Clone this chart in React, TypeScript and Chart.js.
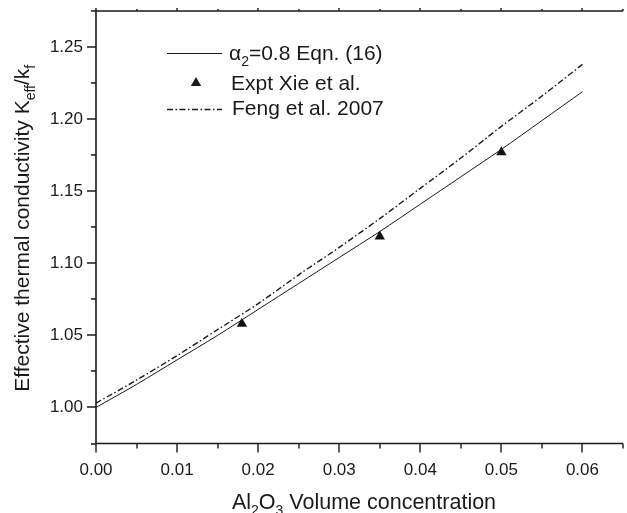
import React, { useEffect, useRef } from 'react';
import { Chart, registerables } from 'chart.js';

Chart.register(...registerables);

// ---- data ----
const CONC = [0, 0.005, 0.01, 0.015, 0.02, 0.025, 0.03, 0.035, 0.04, 0.045, 0.05, 0.055, 0.06];
const MODEL_ALPHA08 = [1.0, 1.016, 1.033, 1.05, 1.068, 1.086, 1.104, 1.122, 1.141, 1.16, 1.179, 1.199, 1.219];
const FENG_2007 = [1.003, 1.019, 1.036, 1.054, 1.072, 1.092, 1.111, 1.131, 1.152, 1.173, 1.195, 1.216, 1.238];
const EXPT_X = [0.018, 0.035, 0.05];
const EXPT_Y = [1.058, 1.1185, 1.177];

const X_TICKS = [0, 0.01, 0.02, 0.03, 0.04, 0.05, 0.06];
const X_MINOR = [0.005, 0.015, 0.025, 0.035, 0.045, 0.055, 0.065];
const Y_TICKS = [1.0, 1.05, 1.1, 1.15, 1.2, 1.25];
const Y_MINOR = [0.975, 1.025, 1.075, 1.125, 1.175, 1.225, 1.275];
const X_MIN = 0;
const X_MAX = 0.065;
const Y_MIN = 0.975;
const Y_MAX = 1.275;

const FONT = "'Liberation Sans', Arial, Helvetica, sans-serif";
const INK = '#1a1a1a';

type Part = { t: string; sub?: boolean };

function richWidth(ctx: CanvasRenderingContext2D, parts: Part[], size: number) {
  let w = 0;
  for (const p of parts) {
    ctx.font = `${p.sub ? Math.round(size * 0.65) : size}px ${FONT}`;
    w += ctx.measureText(p.t).width;
  }
  return w;
}

function drawRich(ctx: CanvasRenderingContext2D, parts: Part[], x: number, y: number, size: number, align: 'left' | 'center') {
  let cx = align === 'center' ? x - richWidth(ctx, parts, size) / 2 : x;
  ctx.textAlign = 'left';
  ctx.textBaseline = 'alphabetic';
  for (const p of parts) {
    ctx.font = `${p.sub ? Math.round(size * 0.65) : size}px ${FONT}`;
    ctx.fillText(p.t, cx, p.sub ? y + size * 0.3 : y);
    cx += ctx.measureText(p.t).width;
  }
}

function triangle(ctx: CanvasRenderingContext2D, x: number, y: number, r: number) {
  ctx.beginPath();
  for (let k = 0; k < 3; k++) {
    const a = (k * 2 * Math.PI) / 3;
    const px = x + Math.sin(a) * r;
    const py = y - Math.cos(a) * r;
    if (k === 0) ctx.moveTo(px, py);
    else ctx.lineTo(px, py);
  }
  ctx.closePath();
  ctx.fill();
}

const decor = {
  id: 'decor',
  afterDraw(chart: any) {
    const { ctx, chartArea } = chart;
    const { left, right, top, bottom } = chartArea;
    const xs = chart.scales.x;
    const ys = chart.scales.y;
    ctx.save();
    ctx.strokeStyle = INK;
    ctx.fillStyle = INK;

    // frame
    ctx.lineWidth = 1.6;
    ctx.beginPath();
    ctx.moveTo(left, top);
    ctx.lineTo(left, bottom);
    ctx.moveTo(left - 0.8, bottom);
    ctx.lineTo(right, bottom);
    ctx.moveTo(left - 0.8, top);
    ctx.lineTo(right, top);
    ctx.stroke();

    // ticks
    ctx.lineWidth = 1.4;
    ctx.beginPath();
    for (const v of X_TICKS) {
      const px = Math.round(xs.getPixelForValue(v));
      ctx.moveTo(px, bottom);
      ctx.lineTo(px, bottom + 9);
      ctx.moveTo(px, top);
      ctx.lineTo(px, top - 3);
    }
    for (const v of X_MINOR) {
      const px = Math.round(xs.getPixelForValue(v));
      ctx.moveTo(px, bottom);
      ctx.lineTo(px, bottom + 5);
      ctx.moveTo(px, top);
      ctx.lineTo(px, top - 2);
    }
    for (const v of Y_TICKS) {
      const py = Math.round(ys.getPixelForValue(v));
      ctx.moveTo(left, py);
      ctx.lineTo(left - 9, py);
    }
    for (const v of Y_MINOR) {
      const py = Math.round(ys.getPixelForValue(v));
      ctx.moveTo(left, py);
      ctx.lineTo(left - 5, py);
    }
    ctx.stroke();

    // axis titles
    drawRich(
      ctx,
      [{ t: 'Al' }, { t: '2', sub: true }, { t: 'O' }, { t: '3', sub: true }, { t: ' Volume concentration' }],
      364,
      509,
      21.5,
      'center'
    );
    ctx.save();
    ctx.translate(28.5, (top + bottom) / 2 + 1);
    ctx.rotate(-Math.PI / 2);
    drawRich(
      ctx,
      [{ t: 'Effective thermal conductivity K' }, { t: 'eff', sub: true }, { t: '/k' }, { t: 'f', sub: true }],
      0,
      0,
      21,
      'center'
    );
    ctx.restore();

    // legend
    ctx.lineWidth = 1;
    ctx.beginPath();
    ctx.moveTo(167, 53.5);
    ctx.lineTo(222, 53.5);
    ctx.stroke();
    drawRich(ctx, [{ t: 'α' }, { t: '2', sub: true }, { t: '=0.8 Eqn. (16)' }], 229, 60, 21, 'left');

    triangle(ctx, 196, 83, 6);
    drawRich(ctx, [{ t: 'Expt Xie et al.' }], 231, 89.5, 21, 'left');

    ctx.lineWidth = 1.4;
    ctx.setLineDash([6, 2.5, 1.5, 2.5]);
    ctx.beginPath();
    ctx.moveTo(167, 109.5);
    ctx.lineTo(222, 109.5);
    ctx.stroke();
    ctx.setLineDash([]);
    drawRich(ctx, [{ t: 'Feng et al. 2007' }], 232, 114.5, 21, 'left');

    ctx.restore();
  },
};

export default function App() {
  const ref = useRef<HTMLCanvasElement | null>(null);

  useEffect(() => {
    if (!ref.current) return;
    Chart.defaults.font.family = FONT;
    const chart = new Chart(ref.current, {
      type: 'line',
      data: {
        datasets: [
          {
            label: 'alpha2=0.8 Eqn. (16)',
            data: CONC.map((x, i) => ({ x, y: MODEL_ALPHA08[i] })),
            borderColor: INK,
            borderWidth: 1,
            pointRadius: 0,
            tension: 0.3,
            fill: false,
          },
          {
            label: 'Expt Xie et al.',
            data: EXPT_X.map((x, i) => ({ x, y: EXPT_Y[i] })),
            showLine: false,
            pointStyle: 'triangle',
            pointRadius: 6,
            pointBackgroundColor: '#111',
            pointBorderColor: '#111',
            pointBorderWidth: 0,
          },
          {
            label: 'Feng et al. 2007',
            data: CONC.map((x, i) => ({ x, y: FENG_2007[i] })),
            borderColor: INK,
            borderWidth: 1.4,
            borderDash: [6, 2.5, 1.5, 2.5],
            pointRadius: 0,
            tension: 0.3,
            fill: false,
          },
        ],
      },
      options: {
        animation: false,
        responsive: false,
        devicePixelRatio: 1,
        layout: { padding: { top: 11, left: 0, right: 0, bottom: 0 } },
        plugins: { legend: { display: false }, tooltip: { enabled: false } },
        scales: {
          x: {
            type: 'linear',
            min: X_MIN,
            max: X_MAX,
            grid: { display: false, drawTicks: false },
            border: { display: false },
            afterBuildTicks: (s: any) => {
              s.ticks = X_TICKS.map((v) => ({ value: v }));
            },
            afterFit: (s: any) => {
              s.height = 69.5;
              s.paddingLeft = 0;
              s.paddingRight = 0;
            },
            ticks: {
              padding: 17,
              autoSkip: false,
              maxRotation: 0,
              color: INK,
              font: { size: 17, family: FONT },
              callback: (v: any) => Number(v).toFixed(2),
            },
          },
          y: {
            type: 'linear',
            min: Y_MIN,
            max: Y_MAX,
            grid: { display: false, drawTicks: false },
            border: { display: false },
            afterBuildTicks: (s: any) => {
              s.ticks = Y_TICKS.map((v) => ({ value: v }));
            },
            afterFit: (s: any) => {
              s.width = 96;
              s.paddingTop = 0;
              s.paddingBottom = 0;
            },
            ticks: {
              padding: 13,
              autoSkip: false,
              color: INK,
              font: { size: 17, family: FONT },
              callback: (v: any) => Number(v).toFixed(2),
            },
          },
        },
      },
      plugins: [decor],
    });
    return () => chart.destroy();
  }, []);

  return (
    <div style={{ position: 'fixed', left: 0, top: 0, width: 627, height: 513, overflow: 'hidden', background: '#fff' }}>
      <canvas ref={ref} width={629} height={513} style={{ width: 629, height: 513, display: 'block' }} />
    </div>
  );
}
